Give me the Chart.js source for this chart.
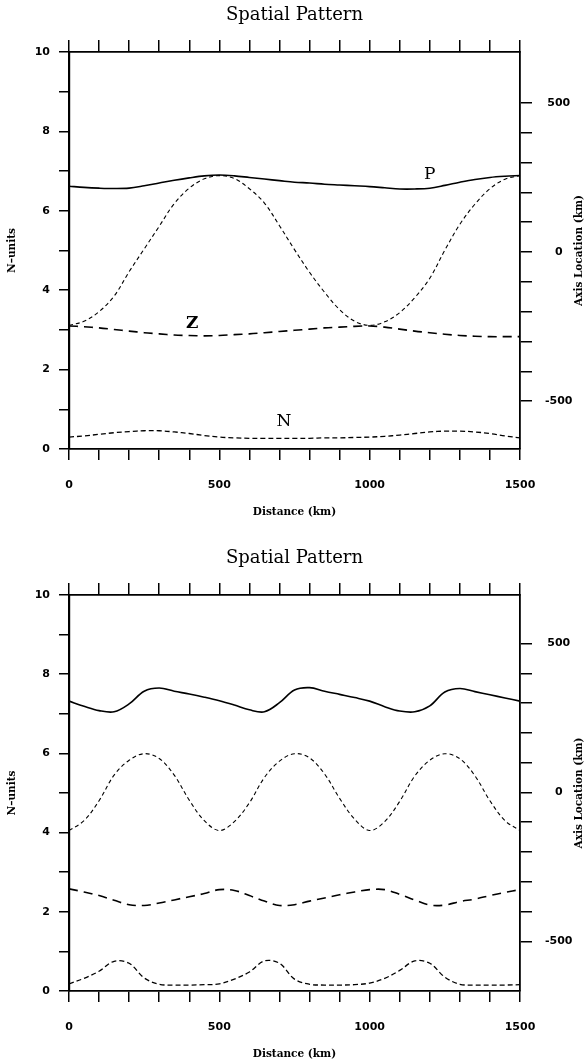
<!DOCTYPE html>
<html>
<head>
<meta charset="utf-8">
<script src="https://cdn.jsdelivr.net/npm/chart.js@4.4.1/dist/chart.umd.min.js"></script>
<style>
  body { margin: 0; background: #fff; }
  #wrap { position: relative; width: 587px; height: 1063px; }
  canvas { position: absolute; left: 0; }
  #top { top: 0; }
  #bottom { top: 543px; }
</style>
</head>
<body>
<div id="wrap">
  <canvas id="top" width="587" height="530"></canvas>
  <canvas id="bottom" width="587" height="520"></canvas>
</div>
<script>
// distance along the section (km), one sample every 50 km
const distance = [0, 50, 100, 150, 200, 250, 300, 350, 400, 450, 500, 550, 600, 650, 700, 750,
  800, 850, 900, 950, 1000, 1050, 1100, 1150, 1200, 1250, 1300, 1350, 1400, 1450, 1500];

// ---------- upper panel ----------
const pTop = [6.62, 6.59, 6.57, 6.56, 6.57, 6.63, 6.70, 6.77, 6.83, 6.88, 6.90, 6.88, 6.84, 6.80, 6.76, 6.72,
  6.70, 6.67, 6.65, 6.63, 6.61, 6.58, 6.55, 6.55, 6.57, 6.64, 6.72, 6.79, 6.84, 6.87, 6.89];
const zTop = [3.10, 3.08, 3.05, 3.01, 2.97, 2.93, 2.90, 2.87, 2.86, 2.85, 2.86, 2.88, 2.90, 2.93, 2.96, 2.99,
  3.02, 3.05, 3.07, 3.09, 3.10, 3.07, 3.02, 2.97, 2.93, 2.89, 2.86, 2.84, 2.83, 2.83, 2.83];
const nTop = [0.30, 0.33, 0.37, 0.41, 0.44, 0.46, 0.46, 0.43, 0.39, 0.34, 0.30, 0.28, 0.27, 0.27, 0.27, 0.27,
  0.27, 0.28, 0.28, 0.29, 0.30, 0.32, 0.35, 0.39, 0.43, 0.45, 0.45, 0.43, 0.39, 0.33, 0.28];
// axis location (km, right scale)
const axisTop = [-246, -232, -200, -148, -66, 10, 86, 162, 214, 245, 256, 246, 212, 164, 88, 8,
  -68, -135, -193, -232, -246, -234, -203, -153, -88, 6, 93, 160, 212, 244, 256];

// ---------- lower panel ----------
const pBot = [7.32, 7.19, 7.08, 7.05, 7.25, 7.57, 7.65, 7.57, 7.50, 7.42, 7.33, 7.22, 7.10, 7.05, 7.28, 7.60,
  7.66, 7.57, 7.49, 7.41, 7.32, 7.18, 7.07, 7.05, 7.20, 7.55, 7.64, 7.56, 7.48, 7.40, 7.32];
const zBot = [2.58, 2.50, 2.41, 2.29, 2.18, 2.16, 2.22, 2.30, 2.38, 2.46, 2.56, 2.54, 2.41, 2.27, 2.16, 2.18,
  2.27, 2.35, 2.43, 2.50, 2.56, 2.56, 2.44, 2.30, 2.17, 2.17, 2.26, 2.32, 2.41, 2.49, 2.56];
const nBot = [0.18, 0.32, 0.50, 0.75, 0.70, 0.33, 0.17, 0.15, 0.15, 0.16, 0.18, 0.30, 0.48, 0.76, 0.70, 0.30,
  0.17, 0.15, 0.15, 0.16, 0.20, 0.32, 0.52, 0.76, 0.70, 0.35, 0.17, 0.15, 0.15, 0.15, 0.16];
const axisBot = [-128, -95, -28, 58, 108, 130, 114, 58, -26, -95, -128, -98, -35, 50, 105, 130,
  116, 62, -20, -90, -128, -98, -30, 55, 108, 130, 113, 56, -28, -95, -128];

// tick labels
const xLabels = [0, 500, 1000, 1500];
const yLabels = [0, 2, 4, 6, 8, 10];
const y2Labels = [-500, 0, 500];
const y2Ticks = [-500, -400, -300, -200, -100, 0, 100, 200, 300, 400, 500];

// curve labels (only on the upper panel)
const topCurveLabels = [
  { text: 'P', x: 1200, y: 6.9, bold: false },
  { text: 'Z', x: 410, y: 3.17, bold: true },
  { text: 'N', x: 715, y: 0.7, bold: false }
];

const pts = arr => distance.map((d, i) => ({ x: d, y: arr[i] }));

const textPlugin = {
  id: 'texts',
  afterDraw(chart, args, opts) {
    const ctx = chart.ctx;
    const a = chart.chartArea;
    const midY = (a.top + a.bottom) / 2;
    ctx.save();
    ctx.fillStyle = '#000';
    ctx.textAlign = 'center';
    ctx.textBaseline = 'middle';

    ctx.font = '18px "DejaVu Serif"';
    ctx.fillText('Spatial Pattern', (a.left + a.right) / 2, 15);

    ctx.font = 'bold 10.5px "DejaVu Serif"';
    ctx.fillText('Distance (km)', (a.left + a.right) / 2, a.bottom + 63);

    ctx.save();
    ctx.translate(12, midY);
    ctx.rotate(-Math.PI / 2);
    ctx.fillText('N\u2013units', 0, 0);
    ctx.restore();

    ctx.save();
    ctx.translate(579, midY);
    ctx.rotate(-Math.PI / 2);
    ctx.fillText('Axis Location (km)', 0, 0);
    ctx.restore();

    (opts.labels || []).forEach(l => {
      ctx.font = (l.bold ? 'bold ' : '') + '17px "DejaVu Serif"';
      ctx.fillText(l.text, chart.scales.x.getPixelForValue(l.x), chart.scales.y.getPixelForValue(l.y));
    });
    ctx.restore();
  }
};

const tickFont = { family: '"DejaVu Sans"', size: 11, weight: 'bold' };
const black = '#000';

function makeChart(id, bottomHeight, p, axisLoc, z, n, y2min, y2max, labels) {
  const line = (data, dash, width, axis) => ({
    data: pts(data),
    borderColor: black,
    borderWidth: width,
    borderDash: dash,
    pointRadius: 0,
    tension: 0.35,
    fill: false,
    yAxisID: axis
  });

  return new Chart(document.getElementById(id), {
    type: 'line',
    data: {
      datasets: [
        line(p, [], 1.6, 'y'),
        line(axisLoc, [4, 3], 1.1, 'y2'),
        line(z, [9, 6], 1.6, 'y'),
        line(n, [5, 3], 1.3, 'y')
      ]
    },
    options: {
      responsive: false,
      animation: false,
      layout: { padding: { top: 40, left: 0, right: 0, bottom: 0 } },
      plugins: {
        legend: { display: false },
        tooltip: { enabled: false },
        texts: { labels: labels }
      },
      scales: {
        x: {
          type: 'linear',
          position: 'bottom',
          min: 0,
          max: 1500,
          afterFit: s => { s.height = bottomHeight; },
          ticks: {
            stepSize: 100,
            autoSkip: false,
            maxRotation: 0,
            padding: 19,
            color: black,
            font: tickFont,
            callback: v => xLabels.includes(v) ? String(v) : ''
          },
          grid: { drawOnChartArea: false, drawTicks: true, tickLength: 11, color: black, lineWidth: 1.5 },
          border: { display: true, color: black, width: 1.8 }
        },
        xTop: {
          type: 'linear',
          position: 'top',
          min: 0,
          max: 1500,
          afterFit: s => { s.height = 12; },
          ticks: { stepSize: 100, autoSkip: false, display: false },
          grid: { drawOnChartArea: false, drawTicks: true, tickLength: 12, color: black, lineWidth: 1.5 },
          border: { display: true, color: black, width: 1.8 }
        },
        y: {
          position: 'left',
          min: 0,
          max: 10,
          afterFit: s => { s.width = 69; },
          ticks: {
            stepSize: 1,
            autoSkip: false,
            padding: 9,
            color: black,
            font: tickFont,
            callback: v => yLabels.includes(v) ? String(v) : ''
          },
          grid: { drawOnChartArea: false, drawTicks: true, tickLength: 10, color: black, lineWidth: 1.5 },
          border: { display: true, color: black, width: 2.2 }
        },
        y2: {
          position: 'right',
          min: y2min,
          max: y2max,
          afterFit: s => { s.width = 67; },
          afterBuildTicks: s => { s.ticks = y2Ticks.map(v => ({ value: v })); },
          ticks: {
            autoSkip: false,
            padding: 13,
            crossAlign: 'center',
            color: black,
            font: tickFont,
            callback: v => y2Labels.includes(v) ? String(v) : ''
          },
          grid: { drawOnChartArea: false, drawTicks: true, tickLength: 12, color: black, lineWidth: 1.5 },
          border: { display: true, color: black, width: 1.8 }
        }
      }
    },
    plugins: [textPlugin]
  });
}

makeChart('top', 81, pTop, axisTop, zTop, nTop, -660, 670, topCurveLabels);
makeChart('bottom', 72, pBot, axisBot, zBot, nBot, -667, 663, []);
</script>
</body>
</html>
